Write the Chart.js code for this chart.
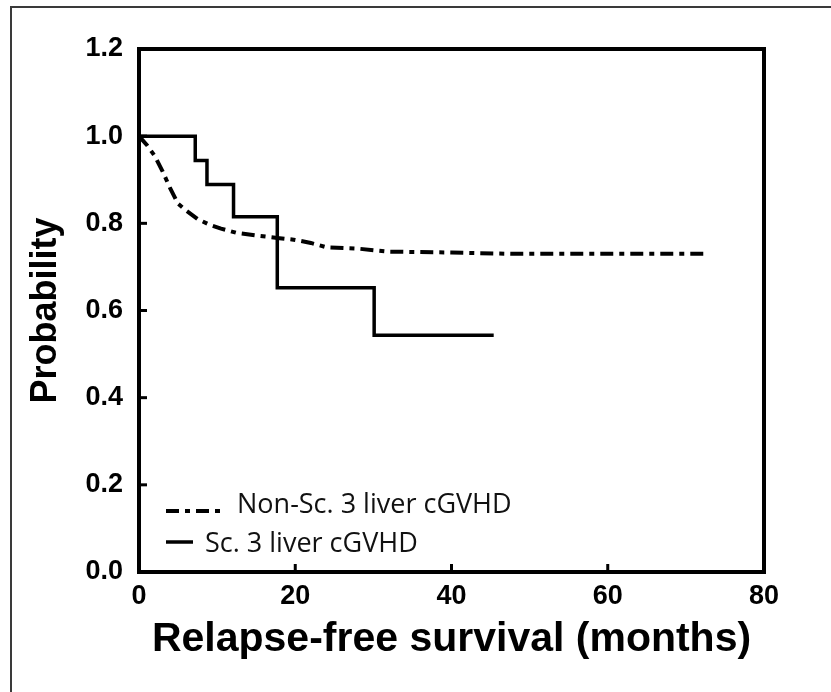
<!DOCTYPE html>
<html>
<head>
<meta charset="utf-8">
<script src="https://cdn.jsdelivr.net/npm/chart.js@4.4.0/dist/chart.umd.min.js"></script>
<style>
  html, body { margin: 0; padding: 0; background: #fff; }
  #wrap { position: relative; width: 831px; height: 692px; overflow: hidden; }
  #frame { position: absolute; left: 10px; top: 6px; width: 900px; height: 800px;
           border-left: 2px solid #3a3a3a; border-top: 2px solid #3a3a3a; }
  canvas { position: absolute; left: 0; top: 0; }
</style>
</head>
<body>
<div id="wrap">
  <div id="frame"></div>
  <canvas id="chart" width="831" height="692"></canvas>
</div>
<script>
// months / probability
const nonScMonths = [0, 1, 2, 3, 4, 5, 6, 7.5, 9, 10.5, 12.5, 15, 18, 20, 22, 24, 28, 32, 40, 48, 60, 72.6];
const nonScProb   = [1.0, 0.98, 0.955, 0.92, 0.88, 0.845, 0.83, 0.81, 0.797, 0.788, 0.778, 0.772, 0.766, 0.762, 0.755, 0.745, 0.742, 0.735, 0.733, 0.73, 0.73, 0.73];

const scMonths = [0, 7.2, 8.7, 12.1, 17.7, 30.1, 45.4];
const scProb   = [1.0, 0.944, 0.889, 0.815, 0.652, 0.543, 0.543];

const xTicks = [0, 20, 40, 60, 80];
const yTicks = [0, 0.2, 0.4, 0.6, 0.8, 1.0, 1.2];

const seriesLabels = ['Non-Sc. 3 liver cGVHD', 'Sc. 3 liver cGVHD'];

function toPoints(xs, ys) {
    return xs.map((x, i) => ({ x: x, y: ys[i] }));
}

// box frame, inward ticks and the legend inside the plot
const framePlugin = {
    id: 'frame',
    afterDatasetsDraw(chart) {
        const ctx = chart.ctx;
        const a = chart.chartArea;
        const xs = chart.scales.x, ys = chart.scales.y;
        ctx.save();
        ctx.strokeStyle = '#000';
        ctx.lineWidth = 4;
        ctx.strokeRect(a.left, a.top, a.right - a.left, a.bottom - a.top);
        ctx.lineWidth = 3;
        xTicks.forEach(v => {
            const px = xs.getPixelForValue(v);
            ctx.beginPath(); ctx.moveTo(px, a.bottom); ctx.lineTo(px, a.bottom - 8); ctx.stroke();
        });
        yTicks.forEach(v => {
            const py = ys.getPixelForValue(v);
            ctx.beginPath(); ctx.moveTo(a.left, py); ctx.lineTo(a.left + 8, py); ctx.stroke();
        });

        // legend
        const rows = [
            { y: a.top + 456, lineY: a.top + 462, x0: a.left + 27, x1: a.left + 83, tx: a.left + 98 },
            { y: a.top + 495, lineY: a.top + 493, x0: a.left + 27, x1: a.left + 54, tx: a.left + 66 }
        ];
        ctx.font = '27px "Open Sans"';
        ctx.textBaseline = 'middle';
        ctx.fillStyle = '#111';
        chart.data.datasets.forEach((ds, i) => {
            const r = rows[i];
            ctx.beginPath();
            ctx.lineWidth = ds.borderWidth;
            ctx.setLineDash(ds.borderDash || []);
            ctx.moveTo(r.x0, r.lineY); ctx.lineTo(r.x1, r.lineY);
            ctx.stroke();
            ctx.setLineDash([]);
            ctx.fillText(ds.label, r.tx, r.y);
        });
        ctx.restore();
    }
};

new Chart(document.getElementById('chart'), {
    type: 'line',
    data: {
        datasets: [
            {
                label: seriesLabels[0],
                data: toPoints(nonScMonths, nonScProb),
                borderColor: '#000',
                borderWidth: 4,
                borderDash: [13, 6, 5, 6],
                pointRadius: 0,
                tension: 0
            },
            {
                label: seriesLabels[1],
                data: toPoints(scMonths, scProb),
                borderColor: '#000',
                borderWidth: 3.5,
                stepped: 'before',
                pointRadius: 0
            }
        ]
    },
    options: {
        responsive: false,
        animation: false,
        layout: { padding: { left: 20, top: 49, right: 67, bottom: 20 } },
        plugins: {
            legend: { display: false },
            tooltip: { enabled: false }
        },
        scales: {
            x: {
                type: 'linear',
                min: 0, max: 80,
                afterFit: s => { s.height = 100; },
                afterBuildTicks: s => { s.ticks = xTicks.map(v => ({ value: v })); },
                grid: { display: false, drawTicks: false },
                border: { display: false },
                ticks: {
                    color: '#000',
                    padding: 8,
                    font: { family: 'Liberation Sans', size: 27, weight: 'bold' }
                },
                title: {
                    display: true,
                    text: 'Relapse-free survival (months)',
                    color: '#000',
                    padding: { top: 0, bottom: 8 },
                    font: { family: 'Liberation Sans', size: 41, weight: 'bold' }
                }
            },
            y: {
                min: 0, max: 1.2,
                afterFit: s => { s.width = 119; },
                afterBuildTicks: s => { s.ticks = yTicks.map(v => ({ value: v })); },
                grid: { display: false, drawTicks: false },
                border: { display: false },
                ticks: {
                    color: '#000',
                    padding: 16,
                    callback: v => v.toFixed(1),
                    font: { family: 'Liberation Sans', size: 27, weight: 'bold' }
                },
                title: {
                    display: true,
                    text: 'Probability',
                    color: '#000',
                    padding: { top: 4, bottom: 0 },
                    font: { family: 'Liberation Sans', size: 36, weight: 'bold' }
                }
            }
        }
    },
    plugins: [framePlugin]
});
</script>
</body>
</html>
